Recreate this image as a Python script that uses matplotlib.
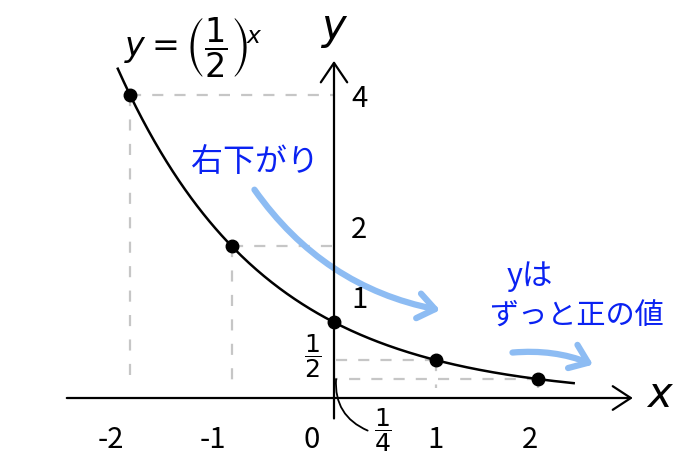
import numpy as np
import matplotlib.pyplot as plt

plt.rcParams['font.family'] = ['Noto Sans CJK JP', 'DejaVu Sans']
plt.rcParams['mathtext.fontset'] = 'dejavusans'

# data: y = (1/2)^x
base = 0.5
pts_x = [-2, -1, 0, 1, 2]
pts_y = [4, 2, 1, 0.5, 0.25]
curve_range = [-2.12, 2.35]

tick_x = [-2, -1, 0, 1, 2]
tick_labels = ['-2', '-1', '0', '1', '2']
tick_dx = [-14, -14, -16, 0, -6]      # hand-written offsets, points

ytick_vals = [4, 2, 1]
ytick_labels = ['4', '2', '1']
ytick_dy = [-3, 12, 16]

ink = 'black'
guide = '#c6c6c6'
pen = '#0a22f2'
marker_blue = '#8dbcf3'

fig = plt.figure(figsize=(6.83, 4.63), dpi=100)
ax = fig.add_axes([0, 0, 1, 1])
ax.set_xlim(-3.275, 3.422)
ax.set_ylim(-0.858, 5.254)
ax.axis('off')

# axes with arrows
ax.annotate('', xy=(2.93, 0), xytext=(-2.62, 0),
            arrowprops=dict(arrowstyle='->,head_length=1.3,head_width=0.85',
                            lw=1.6, color=ink, shrinkA=0, shrinkB=0), zorder=3)
ax.annotate('', xy=(0, 4.45), xytext=(0, -0.27),
            arrowprops=dict(arrowstyle='->,head_length=1.4,head_width=0.95',
                            lw=1.6, color=ink, shrinkA=0, shrinkB=0), zorder=3)

# dashed guides
for px, py in zip(pts_x, pts_y):
    if px == 0:
        continue
    ax.plot([px, 0], [py, py], color=guide, lw=1.6, dashes=(5, 5), zorder=1)
    ax.plot([px, px], [py, 0.13], color=guide, lw=1.6, dashes=(5, 6), zorder=1)

# curve and points
cx = np.linspace(curve_range[0], curve_range[1], 300)
ax.plot(cx, base ** cx, color=ink, lw=1.8, zorder=4)
ax.plot(pts_x, pts_y, 'o', color=ink, markersize=9, zorder=5)

# tick labels
for tx, lab, dx in zip(tick_x, tick_labels, tick_dx):
    ax.annotate(lab, xy=(tx, 0), xytext=(dx, -30), textcoords='offset points',
                ha='center', va='center', fontsize=21, color=ink)
for tv, lab, dy in zip(ytick_vals, ytick_labels, ytick_dy):
    ax.annotate(lab, xy=(0, tv), xytext=(18, dy), textcoords='offset points',
                ha='center', va='center', fontsize=21, color=ink)

ax.text(-0.21, 0.55, r'$\dfrac{1}{2}$', ha='center', va='center', fontsize=18, color=ink)
ax.text(0.48, -0.42, r'$\dfrac{1}{4}$', ha='center', va='center', fontsize=18, color=ink)
ax.annotate('', xy=(0.02, 0.25), xytext=(0.33, -0.43),
            arrowprops=dict(arrowstyle='-', lw=1.3, color=ink,
                            connectionstyle='arc3,rad=-0.35', shrinkA=0, shrinkB=0))

# axis names and title
ax.text(3.2, 0.03, r'$x$', ha='center', va='center', fontsize=30, color=ink)
ax.text(0.0, 4.87, r'$y$', ha='center', va='center', fontsize=30, color=ink)
ax.text(-1.38, 4.62, r'$y=\left(\dfrac{1}{2}\right)^{\!x}$', ha='center', va='center',
        fontsize=24, color=ink)

# notes
ax.text(-0.77, 3.12, '右下がり', ha='center', va='center', fontsize=23, color=pen)
ax.text(1.92, 1.6, 'yは', ha='center', va='center', fontsize=22, color=pen)
ax.text(2.38, 1.07, 'ずっと正の値', ha='center', va='center', fontsize=21, color=pen)

ax.annotate('', xy=(1.04, 1.16), xytext=(-0.78, 2.75),
            arrowprops=dict(arrowstyle='->,head_length=0.6,head_width=0.45',
                            lw=4.5, color=marker_blue, mutation_scale=20,
                            connectionstyle='arc3,rad=0.2', shrinkA=0, shrinkB=0),
            zorder=2)
ax.annotate('', xy=(2.54, 0.44), xytext=(1.75, 0.6),
            arrowprops=dict(arrowstyle='->,head_length=0.6,head_width=0.45',
                            lw=4.5, color=marker_blue, mutation_scale=20,
                            connectionstyle='arc3,rad=-0.12', shrinkA=0, shrinkB=0),
            zorder=2)

fig.savefig('out.png', dpi=100)
